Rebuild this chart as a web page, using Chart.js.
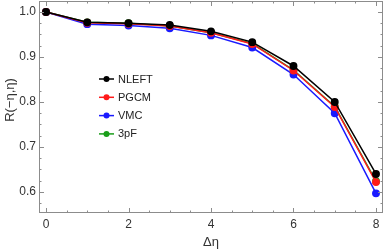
<!DOCTYPE html>
<html>
<head>
<meta charset="utf-8">
<script src="https://cdn.jsdelivr.net/npm/chart.js@4"></script>
<style>
  html, body { margin: 0; padding: 0; background: #fff; }
  #wrap { width: 384px; height: 250px; }
</style>
</head>
<body>
<div id="wrap"><canvas id="chart" width="384" height="250"></canvas></div>
<script>
// data
const deltaEta = [0, 1, 2, 3, 4, 5, 6, 7, 8];
const nleft = [1.0, 0.977, 0.975, 0.971, 0.957, 0.933, 0.880, 0.800, 0.640];
const pgcm  = [1.0, 0.976, 0.974, 0.969, 0.954, 0.929, 0.870, 0.789, 0.622];
const vmc   = [1.0, 0.973, 0.970, 0.964, 0.948, 0.921, 0.861, 0.775, 0.597];
const threePF = [1.0, 0.977, 0.975, 0.969, 0.954, 0.930, 0.871, 0.790, 0.624];

const seriesNames = ['NLEFT', 'PGCM', 'VMC', '3pF'];
const seriesColors = ['#000000', '#ff1a1a', '#1a1aff', '#1a9e1a'];
const xTickLabels = [0, 2, 4, 6, 8];
const yTickLabels = [0.6, 0.7, 0.8, 0.9, 1.0];

const FONT = 'Liberation Sans, Arial, sans-serif';

function makeSet(name, values, color) {
    return {
        label: name,
        data: deltaEta.map((x, i) => ({ x: x, y: values[i] })),
        borderColor: color,
        backgroundColor: color,
        borderWidth: 1.5,
        pointRadius: 3.2,
        pointHoverRadius: 3.2,
        tension: 0
    };
}

// no extra room for half tick labels, the frame fills the canvas
function fixSize(scale, w, h) {
    if (w) scale.width = w;
    if (h) scale.height = h;
    scale.paddingLeft = 0;
    scale.paddingRight = 0;
    scale.paddingTop = 0;
    scale.paddingBottom = 0;
}

// frame, inward ticks, axis titles, legend
const framePlugin = {
    id: 'frame',
    afterDatasetsDraw(chart) {
        const ctx = chart.ctx;
        const a = chart.chartArea;
        const xs = chart.scales.x;
        const ys = chart.scales.y;
        ctx.save();
        ctx.strokeStyle = '#8c8c8c';
        ctx.lineWidth = 1;
        ctx.strokeRect(a.left + 0.5, a.top + 0.5, a.right - a.left - 1, a.bottom - a.top - 1);

        ctx.beginPath();
        for (let v = 0; v <= 8.001; v += 0.5) {
            const px = Math.round(xs.getPixelForValue(v)) + 0.5;
            const major = Math.abs(v % 2) < 0.001;
            const len = major ? 5 : 2.5;
            ctx.moveTo(px, a.bottom); ctx.lineTo(px, a.bottom - len);
            ctx.moveTo(px, a.top); ctx.lineTo(px, a.top + len);
        }
        for (let k = 22; k <= 41; k++) {
            const v = k * 0.025;
            if (v < ys.min || v > ys.max) continue;
            const py = Math.round(ys.getPixelForValue(v)) + 0.5;
            const major = k % 4 === 0;
            const len = major ? 5 : 2.5;
            ctx.moveTo(a.left, py); ctx.lineTo(a.left + len, py);
            ctx.moveTo(a.right, py); ctx.lineTo(a.right - len, py);
        }
        ctx.stroke();

        // axis titles
        ctx.fillStyle = '#333';
        ctx.font = '13px ' + FONT;
        ctx.textAlign = 'center';
        ctx.textBaseline = 'middle';
        ctx.fillText('\u0394\u03b7', xs.getPixelForValue(4), 242);
        ctx.save();
        ctx.translate(10, 100);
        ctx.rotate(-Math.PI / 2);
        ctx.fillText('R(\u2212\u03b7,\u03b7)', 0, 0);
        ctx.restore();

        // legend
        ctx.font = '11px ' + FONT;
        ctx.textAlign = 'left';
        chart.data.datasets.forEach((ds, i) => {
            const y = 79 + i * 18.3;
            ctx.strokeStyle = ds.borderColor;
            ctx.fillStyle = ds.borderColor;
            ctx.lineWidth = 1.5;
            ctx.beginPath();
            ctx.moveTo(99, y); ctx.lineTo(114, y);
            ctx.stroke();
            ctx.beginPath();
            ctx.arc(106.5, y, 3, 0, Math.PI * 2);
            ctx.fill();
            ctx.fillStyle = '#222';
            ctx.fillText(ds.label, 118, y + 0.5);
        });
        ctx.restore();
    }
};

document.addEventListener('DOMContentLoaded', function() {
    const ctx = document.getElementById('chart').getContext('2d');
    new Chart(ctx, {
        type: 'line',
        data: {
            datasets: [
                makeSet(seriesNames[0], nleft, seriesColors[0]),
                makeSet(seriesNames[1], pgcm, seriesColors[1]),
                makeSet(seriesNames[2], vmc, seriesColors[2]),
                makeSet(seriesNames[3], threePF, seriesColors[3])
            ]
        },
        options: {
            responsive: false,
            animation: false,
            layout: { autoPadding: false, padding: { left: 0, right: 1, top: 1, bottom: 0 } },
            plugins: {
                legend: { display: false },
                tooltip: { enabled: false }
            },
            scales: {
                x: {
                    type: 'linear',
                    min: -0.17,
                    max: 8.17,
                    grid: { display: false, drawTicks: false },
                    border: { display: false },
                    afterBuildTicks(scale) {
                        scale.ticks = xTickLabels.map(v => ({ value: v }));
                    },
                    afterFit(scale) { fixSize(scale, null, 37); },
                    ticks: {
                        color: '#333',
                        font: { family: FONT, size: 12 },
                        padding: 4,
                        maxRotation: 0,
                        callback: v => String(v)
                    }
                },
                y: {
                    min: 0.5533,
                    max: 1.0244,
                    grid: { display: false, drawTicks: false },
                    border: { display: false },
                    afterBuildTicks(scale) {
                        scale.ticks = yTickLabels.map(v => ({ value: v }));
                    },
                    afterFit(scale) { fixSize(scale, 39, null); },
                    ticks: {
                        color: '#333',
                        font: { family: FONT, size: 12 },
                        padding: 3,
                        callback: v => v.toFixed(1)
                    }
                }
            }
        },
        plugins: [framePlugin]
    });
});
</script>
</body>
</html>
